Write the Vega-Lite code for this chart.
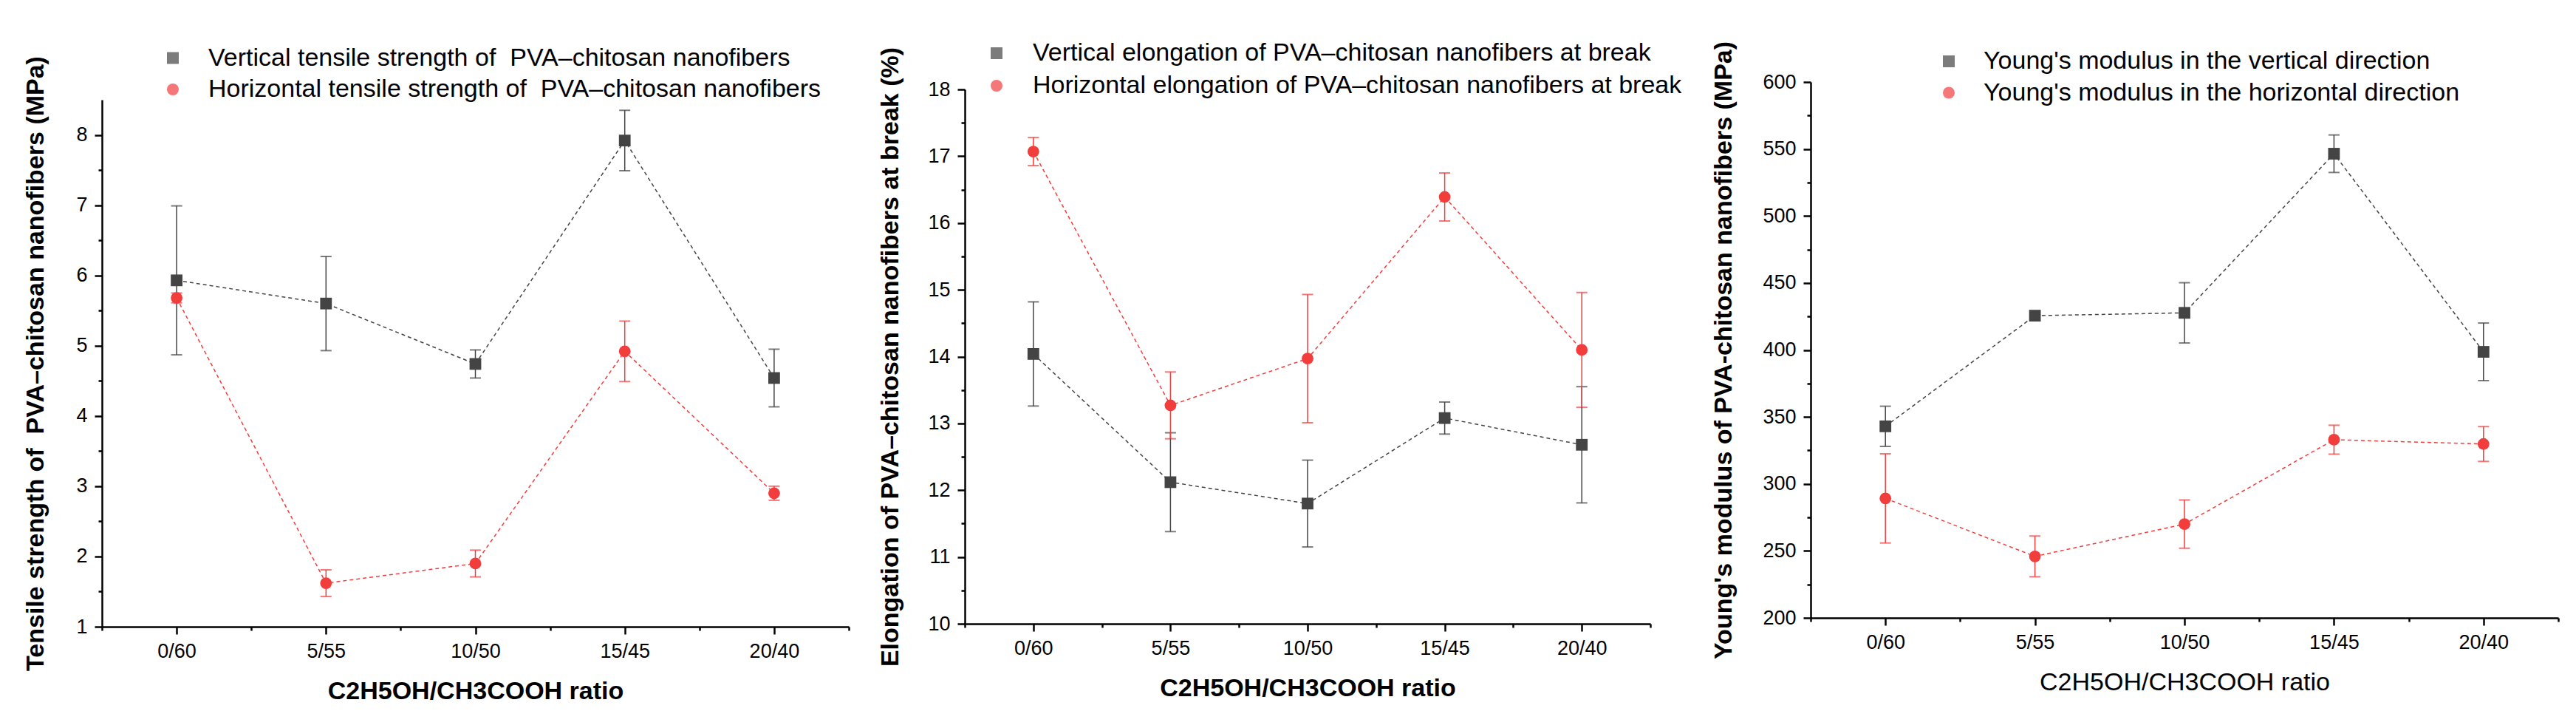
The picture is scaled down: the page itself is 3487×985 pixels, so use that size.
{
  "$schema": "https://vega.github.io/schema/vega-lite/v6.json",
  "background": "white",
  "padding": {"left": 31, "top": 0, "right": 0, "bottom": 0},
  "spacing": 10,
  "bounds": "full",
  "resolve": {"scale": {"color": "independent", "shape": "independent"}, "legend": {"color": "independent", "shape": "independent"}},
  "config": {
    "view": {"stroke": null},
    "axis": {"labelFont": "Liberation Sans", "labelFontSize": 27, "labelColor": "#000", "titleFont": "Liberation Sans", "titleFontSize": 34, "titleColor": "#000", "titleFontWeight": "bold", "domainColor": "#000", "tickColor": "#000", "domainWidth": 2.5, "tickWidth": 2.5, "grid": false, "labelPadding": 10, "tickSize": 10},
    "legend": {"labelFont": "Liberation Sans", "labelFontSize": 34, "labelColor": "#000", "labelLimit": 3000, "padding": 0, "symbolSize": 256, "symbolStrokeWidth": 0, "clipHeight": 34, "rowPadding": 8.5, "labelOffset": 31, "orient": "none", "title": null, "symbolDash": []}
  },
  "hconcat": [
    {
      "spacing": 0, "bounds": "flush",
      "resolve": {"scale": {"color": "independent", "shape": "independent"}, "legend": {"color": "independent", "shape": "independent"}},
      "vconcat": [
        {"width": 1040, "height": 135, "data": {"values": []}, "mark": "point", "encoding": {}},
        {
          "width": 1011, "height": 713,
          "data": {"values": [
            {"ratio": "0/60", "ethanol": 0, "series": "Vertical tensile strength of  PVA–chitosan nanofibers", "value": 5.93, "err": 1.06},
            {"ratio": "5/55", "ethanol": 5, "series": "Vertical tensile strength of  PVA–chitosan nanofibers", "value": 5.60, "err": 0.67},
            {"ratio": "10/50", "ethanol": 10, "series": "Vertical tensile strength of  PVA–chitosan nanofibers", "value": 4.74, "err": 0.20},
            {"ratio": "15/45", "ethanol": 15, "series": "Vertical tensile strength of  PVA–chitosan nanofibers", "value": 7.92, "err": 0.43},
            {"ratio": "20/40", "ethanol": 20, "series": "Vertical tensile strength of  PVA–chitosan nanofibers", "value": 4.54, "err": 0.41},
            {"ratio": "0/60", "ethanol": 0, "series": "Horizontal tensile strength of  PVA–chitosan nanofibers", "value": 5.68, "err": 0.07},
            {"ratio": "5/55", "ethanol": 5, "series": "Horizontal tensile strength of  PVA–chitosan nanofibers", "value": 1.62, "err": 0.19},
            {"ratio": "10/50", "ethanol": 10, "series": "Horizontal tensile strength of  PVA–chitosan nanofibers", "value": 1.90, "err": 0.19},
            {"ratio": "15/45", "ethanol": 15, "series": "Horizontal tensile strength of  PVA–chitosan nanofibers", "value": 4.92, "err": 0.43},
            {"ratio": "20/40", "ethanol": 20, "series": "Horizontal tensile strength of  PVA–chitosan nanofibers", "value": 2.90, "err": 0.10}
          ]},
          "resolve": {"axis": {"x": "independent", "y": "independent"}},
          "layer": [
            {
              "mark": {"type": "line", "strokeWidth": 1.5, "strokeDash": [5, 4]},
              "encoding": {
                "x": {"field": "ethanol", "type": "quantitative", "scale": {"domain": [-2.5, 22.5], "nice": false, "zero": false},
                  "axis": {"orient": "bottom", "values": [-2.5, 2.5, 7.5, 12.5, 17.5, 22.5], "labels": false, "domain": false, "tickSize": 5, "title": null}},
                "y": {"field": "value", "type": "quantitative", "scale": {"domain": [1, 8.5], "nice": false, "zero": false},
                  "axis": {"orient": "left", "values": [1.5, 2.5, 3.5, 4.5, 5.5, 6.5, 7.5], "labels": false, "domain": false, "tickSize": 5, "title": null}},
                "color": {"field": "series", "type": "nominal", "scale": {"domain": ["Vertical tensile strength of  PVA–chitosan nanofibers", "Horizontal tensile strength of  PVA–chitosan nanofibers"], "range": ["#444444", "#f23d3d"]}}
              }
            },
            {
              "mark": {"type": "errorbar", "ticks": {"size": 15, "thickness": 2}, "thickness": 1.5},
              "encoding": {
                "x": {"field": "ethanol", "type": "quantitative", "scale": {"domain": [-2.5, 22.5], "nice": false, "zero": false}, "axis": null},
                "y": {"field": "value", "type": "quantitative", "scale": {"domain": [1, 8.5], "nice": false, "zero": false}, "axis": null},
                "yError": {"field": "err"},
                "color": {"field": "series", "type": "nominal"}
              }
            },
            {
              "mark": {"type": "point", "filled": true, "size": 250, "opacity": 1},
              "encoding": {
                "x": {"field": "ethanol", "type": "quantitative", "scale": {"domain": [-2.5, 22.5], "nice": false, "zero": false},
                  "axis": {"orient": "bottom", "values": [0, 5, 10, 15, 20], "labelExpr": "datum.value + '/' + (60 - datum.value)", "title": "C2H5OH/CH3COOH ratio", "titlePadding": 24}},
                "y": {"field": "value", "type": "quantitative", "scale": {"domain": [1, 8.5], "nice": false, "zero": false},
                  "axis": {"orient": "left", "values": [1, 2, 3, 4, 5, 6, 7, 8], "title": "Tensile strength of \u00a0PVA–chitosan nanofibers (MPa)", "titlePadding": 37}},
                "color": {"field": "series", "type": "nominal",
                  "legend": {"legendX": 79, "legendY": -73.5, "labelOffset": 31, "labelExpr": "replace(datum.label, 'of  PVA', 'of \u00a0PVA')"}},
                "shape": {"field": "series", "type": "nominal", "scale": {"domain": ["Vertical tensile strength of  PVA–chitosan nanofibers", "Horizontal tensile strength of  PVA–chitosan nanofibers"], "range": ["square", "circle"]}}
              }
            }
          ]
        }
      ]
    },
    {
      "spacing": 0, "bounds": "flush",
      "resolve": {"scale": {"color": "independent", "shape": "independent"}, "legend": {"color": "independent", "shape": "independent"}},
      "vconcat": [
        {"width": 1000, "height": 121, "data": {"values": []}, "mark": "point", "encoding": {}},
        {
          "width": 928, "height": 723,
          "data": {"values": [
            {"ratio": "0/60", "ethanol": 0, "series": "Vertical elongation of PVA–chitosan nanofibers at break", "value": 14.04, "err": 0.78},
            {"ratio": "5/55", "ethanol": 5, "series": "Vertical elongation of PVA–chitosan nanofibers at break", "value": 12.12, "err": 0.74},
            {"ratio": "10/50", "ethanol": 10, "series": "Vertical elongation of PVA–chitosan nanofibers at break", "value": 11.80, "err": 0.65},
            {"ratio": "15/45", "ethanol": 15, "series": "Vertical elongation of PVA–chitosan nanofibers at break", "value": 13.08, "err": 0.24},
            {"ratio": "20/40", "ethanol": 20, "series": "Vertical elongation of PVA–chitosan nanofibers at break", "value": 12.68, "err": 0.87},
            {"ratio": "0/60", "ethanol": 0, "series": "Horizontal elongation of PVA–chitosan nanofibers at break", "value": 17.07, "err": 0.21},
            {"ratio": "5/55", "ethanol": 5, "series": "Horizontal elongation of PVA–chitosan nanofibers at break", "value": 13.27, "err": 0.50},
            {"ratio": "10/50", "ethanol": 10, "series": "Horizontal elongation of PVA–chitosan nanofibers at break", "value": 13.97, "err": 0.96},
            {"ratio": "15/45", "ethanol": 15, "series": "Horizontal elongation of PVA–chitosan nanofibers at break", "value": 16.39, "err": 0.36},
            {"ratio": "20/40", "ethanol": 20, "series": "Horizontal elongation of PVA–chitosan nanofibers at break", "value": 14.10, "err": 0.86}
          ]},
          "resolve": {"axis": {"x": "independent", "y": "independent"}},
          "layer": [
            {
              "mark": {"type": "line", "strokeWidth": 1.5, "strokeDash": [5, 4]},
              "encoding": {
                "x": {"field": "ethanol", "type": "quantitative", "scale": {"domain": [-2.5, 22.5], "nice": false, "zero": false},
                  "axis": {"orient": "bottom", "values": [-2.5, 2.5, 7.5, 12.5, 17.5, 22.5], "labels": false, "domain": false, "tickSize": 5, "title": null}},
                "y": {"field": "value", "type": "quantitative", "scale": {"domain": [10, 18], "nice": false, "zero": false},
                  "axis": {"orient": "left", "values": [10.5, 11.5, 12.5, 13.5, 14.5, 15.5, 16.5, 17.5], "labels": false, "domain": false, "tickSize": 5, "title": null}},
                "color": {"field": "series", "type": "nominal", "scale": {"domain": ["Vertical elongation of PVA–chitosan nanofibers at break", "Horizontal elongation of PVA–chitosan nanofibers at break"], "range": ["#444444", "#f23d3d"]}}
              }
            },
            {
              "mark": {"type": "errorbar", "ticks": {"size": 15, "thickness": 2}, "thickness": 1.5},
              "encoding": {
                "x": {"field": "ethanol", "type": "quantitative", "scale": {"domain": [-2.5, 22.5], "nice": false, "zero": false}, "axis": null},
                "y": {"field": "value", "type": "quantitative", "scale": {"domain": [10, 18], "nice": false, "zero": false}, "axis": null},
                "yError": {"field": "err"},
                "color": {"field": "series", "type": "nominal"}
              }
            },
            {
              "mark": {"type": "point", "filled": true, "size": 250, "opacity": 1},
              "encoding": {
                "x": {"field": "ethanol", "type": "quantitative", "scale": {"domain": [-2.5, 22.5], "nice": false, "zero": false},
                  "axis": {"orient": "bottom", "values": [0, 5, 10, 15, 20], "labelExpr": "datum.value + '/' + (60 - datum.value)", "title": "C2H5OH/CH3COOH ratio", "titlePadding": 24}},
                "y": {"field": "value", "type": "quantitative", "scale": {"domain": [10, 18], "nice": false, "zero": false},
                  "axis": {"orient": "left", "values": [10, 11, 12, 13, 14, 15, 16, 17, 18], "title": "Elongation of PVA–chitosan nanofibers at break (%)", "titlePadding": 33}},
                "color": {"field": "series", "type": "nominal",
                  "legend": {"legendX": 26, "legendY": -66, "rowPadding": 10, "labelOffset": 32}},
                "shape": {"field": "series", "type": "nominal", "scale": {"domain": ["Vertical elongation of PVA–chitosan nanofibers at break", "Horizontal elongation of PVA–chitosan nanofibers at break"], "range": ["square", "circle"]}}
              }
            }
          ]
        }
      ]
    },
    {
      "spacing": 0, "bounds": "flush",
      "resolve": {"scale": {"color": "independent", "shape": "independent"}, "legend": {"color": "independent", "shape": "independent"}},
      "vconcat": [
        {"width": 1012, "height": 111, "data": {"values": []}, "mark": "point", "encoding": {}},
        {
          "width": 1012, "height": 725,
          "data": {"values": [
            {"ratio": "0/60", "ethanol": 0, "series": "Young's modulus in the vertical direction", "value": 343.0, "err": 15},
            {"ratio": "5/55", "ethanol": 5, "series": "Young's modulus in the vertical direction", "value": 425.6, "err": 3},
            {"ratio": "10/50", "ethanol": 10, "series": "Young's modulus in the vertical direction", "value": 427.7, "err": 22.5},
            {"ratio": "15/45", "ethanol": 15, "series": "Young's modulus in the vertical direction", "value": 546.5, "err": 14},
            {"ratio": "20/40", "ethanol": 20, "series": "Young's modulus in the vertical direction", "value": 398.6, "err": 21.5},
            {"ratio": "0/60", "ethanol": 0, "series": "Young's modulus in the horizontal direction", "value": 289.2, "err": 33.3},
            {"ratio": "5/55", "ethanol": 5, "series": "Young's modulus in the horizontal direction", "value": 245.9, "err": 15.2},
            {"ratio": "10/50", "ethanol": 10, "series": "Young's modulus in the horizontal direction", "value": 270.0, "err": 18},
            {"ratio": "15/45", "ethanol": 15, "series": "Young's modulus in the horizontal direction", "value": 333.0, "err": 10.8},
            {"ratio": "20/40", "ethanol": 20, "series": "Young's modulus in the horizontal direction", "value": 329.8, "err": 13}
          ]},
          "resolve": {"axis": {"x": "independent", "y": "independent"}},
          "layer": [
            {
              "mark": {"type": "line", "strokeWidth": 1.5, "strokeDash": [5, 4]},
              "encoding": {
                "x": {"field": "ethanol", "type": "quantitative", "scale": {"domain": [-2.5, 22.5], "nice": false, "zero": false},
                  "axis": {"orient": "bottom", "values": [-2.5, 2.5, 7.5, 12.5, 17.5, 22.5], "labels": false, "domain": false, "tickSize": 5, "title": null}},
                "y": {"field": "value", "type": "quantitative", "scale": {"domain": [200, 600], "nice": false, "zero": false},
                  "axis": {"orient": "left", "values": [225, 275, 325, 375, 425, 475, 525, 575], "labels": false, "domain": false, "tickSize": 5, "title": null}},
                "color": {"field": "series", "type": "nominal", "scale": {"domain": ["Young's modulus in the vertical direction", "Young's modulus in the horizontal direction"], "range": ["#444444", "#f23d3d"]}}
              }
            },
            {
              "mark": {"type": "errorbar", "ticks": {"size": 15, "thickness": 2}, "thickness": 1.5},
              "encoding": {
                "x": {"field": "ethanol", "type": "quantitative", "scale": {"domain": [-2.5, 22.5], "nice": false, "zero": false}, "axis": null},
                "y": {"field": "value", "type": "quantitative", "scale": {"domain": [200, 600], "nice": false, "zero": false}, "axis": null},
                "yError": {"field": "err"},
                "color": {"field": "series", "type": "nominal"}
              }
            },
            {
              "mark": {"type": "point", "filled": true, "size": 250, "opacity": 1},
              "encoding": {
                "x": {"field": "ethanol", "type": "quantitative", "scale": {"domain": [-2.5, 22.5], "nice": false, "zero": false},
                  "axis": {"orient": "bottom", "values": [0, 5, 10, 15, 20], "labelExpr": "datum.value + '/' + (60 - datum.value)", "title": "C2H5OH/CH3COOH ratio", "titleFontWeight": "normal", "titlePadding": 24}},
                "y": {"field": "value", "type": "quantitative", "scale": {"domain": [200, 600], "nice": false, "zero": false},
                  "axis": {"orient": "left", "values": [200, 250, 300, 350, 400, 450, 500, 550, 600], "title": "Young's modulus of PVA-chitosan nanofibers (MPa)", "titlePadding": 35}},
                "color": {"field": "series", "type": "nominal",
                  "legend": {"legendX": 170, "legendY": -45, "rowPadding": 8.5, "labelOffset": 30}},
                "shape": {"field": "series", "type": "nominal", "scale": {"domain": ["Young's modulus in the vertical direction", "Young's modulus in the horizontal direction"], "range": ["square", "circle"]}}
              }
            }
          ]
        }
      ]
    }
  ]
}
